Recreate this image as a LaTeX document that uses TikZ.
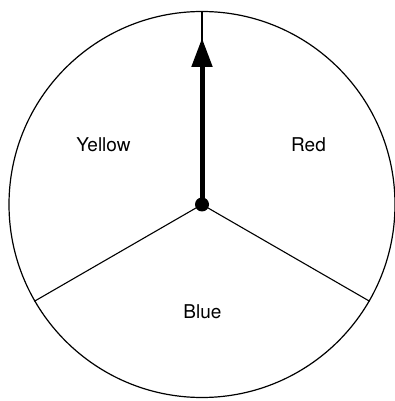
\documentclass[tikz,border=0pt]{standalone}
\usepackage{fontspec}
\setmainfont{TeX Gyre Heros}
\usetikzlibrary{arrows.meta, positioning}

\begin{document}
\begin{tikzpicture}[x=1pt, y=1pt,
    wheel/.style={circle, draw, line width=1.2pt, minimum size=386pt, inner sep=0pt},
    hub/.style={circle, fill, minimum size=14pt, inner sep=0pt},
    spoke/.style={line width=1.1pt},
    colorname/.style={font=\fontsize{19}{22}\selectfont}]

    \useasboundingbox (0,0) rectangle (395,401);

    \node[wheel] (wheel) at (202,196.5) {};
    \node[hub] (hub) at (wheel.center) {};
    \coordinate (tip) at (202,363);

    \node[colorname] (yellow) at (103.5,256) {Yellow};
    \node[colorname] (red) at (308.5,256) {Red};
    \node[colorname] (blue) at (202.5,89) {Blue};

    \draw[spoke] (hub.center) -- (wheel.90);
    \draw[spoke] (hub.center) -- (wheel.210);
    \draw[spoke] (hub.center) -- (wheel.330);
    \draw[line width=5pt, -{Triangle[length=29pt, width=20pt]}] (hub.center) -- (tip);
  \end{tikzpicture}
\end{document}
